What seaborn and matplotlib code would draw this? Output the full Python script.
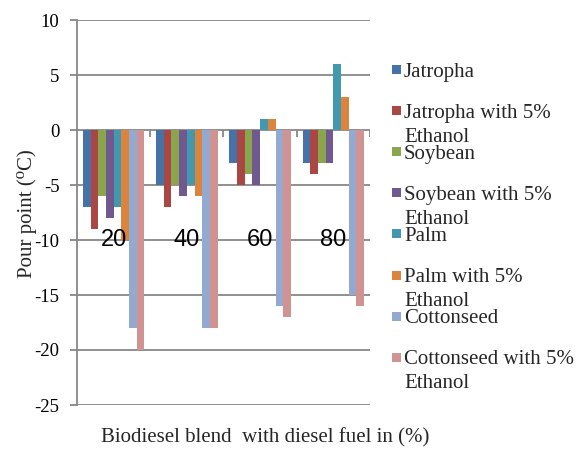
import matplotlib
matplotlib.use("Agg")
import matplotlib.pyplot as plt
from matplotlib.patches import Rectangle
import pandas as pd
import seaborn as sns

# Pour point (°C) of biodiesel blends by blend percentage
blends = ["20", "40", "60", "80"]
series = [
    "Jatropha",
    "Jatropha with 5%\nEthanol",
    "Soybean",
    "Soybean with 5%\nEthanol",
    "Palm",
    "Palm with 5%\nEthanol",
    "Cottonseed",
    "Cottonseed with 5%\nEthanol",
]
jatropha = [-7, -5, -3, -3]
jatropha_eth = [-9, -7, -5, -4]
soybean = [-6, -5, -4, -3]
soybean_eth = [-8, -6, -5, -3]
palm = [-7, -5, 1, 6]
palm_eth = [-10, -6, 1, 3]
cottonseed = [-18, -18, -16, -15]
cottonseed_eth = [-20, -18, -17, -16]
y_ticks = [10, 5, 0, -5, -10, -15, -20, -25]

colors = ["#4572A7", "#AA4643", "#89A54E", "#71588F",
          "#4198AF", "#DB843D", "#93A9CF", "#D19392"]

values = [jatropha, jatropha_eth, soybean, soybean_eth,
          palm, palm_eth, cottonseed, cottonseed_eth]
rows = []
for name, vals in zip(series, values):
    for b, v in zip(blends, vals):
        rows.append({"blend": b, "series": name, "value": v})
df = pd.DataFrame(rows)

sns.set_theme(style="white")
plt.rcParams["font.family"] = ["Liberation Serif", "DejaVu Serif"]

W, H = 580, 450
fig = plt.figure(figsize=(W / 100, H / 100), dpi=100)
ax = fig.add_axes([77 / W, 1 - 405 / H, (370 - 77) / W, (405 - 20) / H])

grid_c = "#878787"
sns.barplot(data=df, x="blend", y="value", hue="series", order=blends,
            hue_order=series, palette=colors, saturation=1, width=0.84,
            dodge=True, legend=False, ax=ax, linewidth=0, zorder=3)

ax.set_xlim(-0.5, 3.5)
ax.set_ylim(-25, 10)
ax.set_yticks(y_ticks)
ax.set_yticklabels([str(t) for t in y_ticks], fontsize=13.5)
for t in y_ticks:
    ax.axhline(t, color=grid_c, lw=1.3, zorder=1)

for s in ["top", "right", "bottom"]:
    ax.spines[s].set_visible(False)
ax.spines["left"].set_color(grid_c)
ax.spines["left"].set_linewidth(1.3)
ax.tick_params(axis="y", length=5, width=1.3, color=grid_c, pad=7.5,
               left=True, labelcolor="black")
ax.set_xticks([])
ax.set_xlabel("")
ax.set_ylabel("")

# category boundary ticks hanging from the zero line
ax.vlines([0.5, 1.5, 2.5, 3.5], -0.65, 0, colors=grid_c, lw=1.3, zorder=2)

# category labels sitting on the -10 line
for i, b in enumerate(blends):
    ax.text(i, -10, b, ha="center", va="center", fontsize=17,
            family=["Liberation Sans", "DejaVu Sans"], color="black", zorder=4)

fig.text(265 / W, 1 - 438 / H, "Biodiesel blend  with diesel fuel in (%)",
         ha="center", va="center", fontsize=15)
fig.text(27 / W, 1 - 214 / H, "Pour point (\u2070C)", rotation=90,
         ha="center", va="center", fontsize=15)

# legend
y0, dy = 69.5, 41.1
for i, (name, c) in enumerate(zip(series, colors)):
    yc = y0 + dy * i
    fig.add_artist(Rectangle((392 / W, 1 - (yc + 4.5) / H), 9 / W, 9 / H,
                             transform=fig.transFigure, color=c, lw=0))
    fig.text(404 / W, 1 - (yc - 7) / H, name, ha="left", va="top",
             fontsize=15, linespacing=1.35)

fig.savefig("out.png", dpi=100)
